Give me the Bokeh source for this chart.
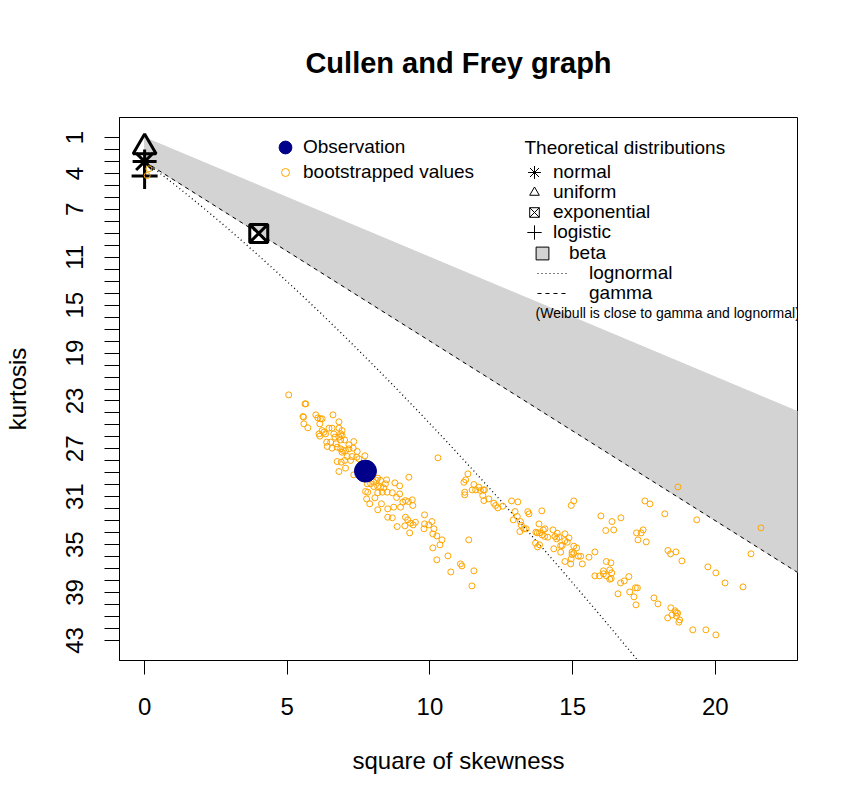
from bokeh.plotting import figure
from bokeh.models import Range1d, FixedTicker, Legend, LegendItem, Label
from bokeh.core.properties import value
from bokeh.embed import file_html
from bokeh.resources import INLINE

FONT = "Liberation Sans"
NAN = float("nan")

# ---------------- data ----------------
x_ticks = [0, 5, 10, 15, 20]
y_ticks = list(range(1, 44))
y_labels_shown = [1, 4, 7, 11, 15, 19, 23, 27, 31, 35, 39, 43]

obs_s2 = [7.74]
obs_kurt = [28.86]

boot_s2 = [
    0.15, 0.09,
    5.05, 5.62, 5.65, 5.55, 5.57, 5.58, 5.72, 6.00, 6.07, 6.16, 6.22, 6.60, 6.81, 6.14, 6.22, 6.11, 6.14, 6.28,
    6.34, 6.46, 6.57, 6.81, 6.92, 6.87, 6.63, 6.67, 6.81, 6.92, 6.38, 6.52, 6.71, 6.87, 7.01, 7.16, 7.33, 6.40,
    6.57, 6.75, 6.87, 6.96, 7.04, 7.16, 7.31, 7.45, 6.92, 7.10, 7.27, 7.43, 7.51, 6.75, 6.89, 7.01, 7.22, 7.72,
    6.81, 7.04, 7.33, 7.80, 7.92, 8.03, 8.13, 8.17, 8.27, 8.48, 8.03, 8.17, 8.27, 8.38, 8.44, 8.77, 8.94, 9.26,
    7.74, 7.82, 7.78, 7.89, 8.07, 8.17, 8.33, 8.50, 8.68, 8.83, 8.94, 9.05, 9.14, 9.24, 9.38, 9.40, 8.30, 8.17,
    8.52, 8.73, 8.97, 8.52, 8.68, 8.85, 9.12, 9.14, 9.22, 9.32, 9.41, 9.49, 9.29,
    10.28, 11.33, 11.19, 11.25, 11.22, 11.22, 11.54, 11.48, 11.60, 11.71, 11.77, 11.87, 11.91, 11.89, 11.85,
    12.06, 12.24, 12.30, 12.38, 12.55, 12.86, 13.08, 12.98, 13.06, 12.92, 13.17, 13.20, 13.29, 13.37, 13.15,
    13.43, 13.47, 13.82, 13.92, 13.71, 13.76, 13.84, 13.97, 14.03, 13.93, 14.02, 14.13, 14.31, 14.38, 14.46,
    14.44, 14.52, 14.58, 14.63, 14.73, 14.73, 14.81, 14.87, 15.04, 15.14, 14.34, 14.58, 14.98, 14.98, 15.04,
    15.20, 15.28, 14.95, 14.73, 14.93, 15.34, 15.57, 15.78, 15.04, 14.95, 15.99, 16.16, 16.38, 16.44, 16.69,
    17.53, 17.71, 18.23, 17.24, 17.40, 17.47, 17.29, 17.58, 18.34, 18.43, 18.62, 18.83, 19.35, 18.69, 21.60,
    21.25, 19.74, 20.02, 20.34, 20.97, 16.18, 16.34, 15.78, 15.94, 16.08, 16.08, 16.18, 16.30, 16.37, 16.30,
    16.35, 16.97, 16.81, 16.68, 16.59, 17.00, 17.15, 17.22, 17.20, 17.27, 17.85, 17.99, 18.33, 18.44, 18.48,
    18.59, 18.63, 18.68, 18.64, 18.75, 18.72, 19.21, 19.67, 20.02,
    9.81, 9.81, 9.96, 10.07, 9.79, 10.14, 10.10, 10.24, 10.42, 10.35, 10.10, 10.24, 10.63, 11.07, 11.12, 10.73,
    11.54, 11.47, 11.36, 13.70, 13.77, 13.84,
]
boot_kurt = [
    3.61, 4.17,
    22.49, 23.24, 23.24, 24.30, 24.35, 24.91, 25.24, 24.16, 24.41, 24.49, 24.49, 24.16, 24.74, 24.91, 25.47, 25.75, 25.94, 25.61,
    25.75, 25.27, 25.27, 25.27, 25.47, 25.75, 25.75, 26.02, 26.02, 25.89, 26.44, 26.44, 26.58, 26.25, 26.25, 26.66, 26.39, 26.80,
    26.94, 26.86, 27.00, 27.14, 27.14, 27.00, 26.94, 27.22, 27.28, 27.64, 27.64, 27.70, 27.83, 28.06, 28.11, 27.97, 27.97, 27.58,
    28.89, 28.61, 29.17, 29.92, 29.92, 29.78, 29.64, 29.45, 29.64, 29.59, 30.15, 30.15, 30.20, 30.26, 29.92, 29.84, 30.09, 29.37,
    30.56, 30.62, 31.18, 31.59, 31.09, 30.67, 30.62, 30.62, 30.67, 31.06, 30.76, 31.45, 31.32, 31.40, 31.26, 31.73, 31.59, 32.09,
    32.01, 31.87, 31.87, 32.71, 32.76, 33.49, 33.43, 32.71, 32.93, 33.21, 33.35, 33.13, 34.02,
    27.75, 29.09, 29.79, 29.59, 30.62, 30.84, 29.98, 30.43, 30.43, 30.20, 30.48, 30.43, 30.43, 31.32, 30.90,
    31.18, 31.54, 31.73, 31.93, 31.79, 31.35, 31.43, 32.24, 32.65, 32.93, 33.07, 33.38, 33.68, 33.68, 33.91,
    32.24, 32.43, 33.27, 32.18, 33.96, 34.02, 34.02, 33.77, 33.68, 34.19, 34.32, 34.38, 33.77, 34.32, 34.05,
    34.52, 34.38, 35.08, 35.08, 34.10, 34.66, 34.80, 34.44, 35.13, 35.27, 35.35, 35.63, 35.63, 35.83, 35.72,
    35.97, 35.97, 36.19, 36.41, 36.61, 36.61, 36.05, 35.61, 31.35, 31.73, 32.60, 33.82, 33.07, 33.77, 32.76,
    31.35, 31.60, 32.43, 34.02, 34.02, 33.77, 34.60, 34.77, 35.49, 35.77, 35.61, 36.36, 32.93, 30.18, 33.60,
    35.77, 36.86, 37.36, 38.20, 38.53, 36.41, 36.52, 37.61, 37.61, 37.44, 37.19, 37.61, 37.11, 37.36, 37.89,
    37.83, 37.67, 38.03, 38.20, 39.11, 38.95, 39.36, 40.03, 38.61, 38.61, 39.45, 39.95, 41.12, 40.28, 40.87,
    40.53, 40.67, 40.73, 40.98, 41.29, 41.48, 42.12, 42.12, 42.54,
    32.51, 33.27, 33.35, 33.07, 33.68, 33.68, 34.10, 34.27, 34.60, 35.02, 35.27, 36.27, 35.94, 36.61, 36.78, 37.28,
    37.19, 38.45, 34.60, 34.88, 35.19, 35.02,
]

# theoretical distributions (square of skewness, kurtosis)
normal_s2, normal_kurt = [0], [3]
uniform_s2, uniform_kurt = [0], [1.8]
expo_s2, expo_kurt = [4], [9]
logis_s2, logis_kurt = [0], [4.2]

beta_s2 = [0, 30, 30, 0]
beta_kurt = [1, 31, 48, 3]

gamma_s2 = [0, 30]
gamma_kurt = [3, 48]

lognormal_s2 = [0, 0.4651, 0.961, 1.4884, 2.048, 2.6406, 3.267, 3.9279, 4.624, 5.3561, 6.125,
                6.9314, 7.776, 8.6596, 9.583, 10.5469, 11.552, 12.5991, 13.689, 14.8224, 16.0,
                17.2226, 18.491]
lognormal_kurt = [3, 3.8383, 4.7561, 5.7583, 6.8496, 8.0352, 9.3201, 10.7098, 12.2096, 13.8253,
                  15.5625, 17.4273, 19.4256, 21.5638, 23.8481, 26.2852, 28.8816, 31.6443, 34.5801,
                  37.6963, 41.0, 44.4985, 48.2]

note_text = "(Weibull is close to gamma and lognormal)"
note_s2, note_kurt = [13.70], [15.61]

ORANGE = "#FFA500"
DARKBLUE = "#00008B"
LIGHTGREY = "#D3D3D3"

# ---------------- figure ----------------
FL, FT, FW, FH = 119, 117, 678, 543   # frame offsets inside the figure
p = figure(frame_width=FW, frame_height=FH,
           x_range=Range1d(-0.88, 22.88), y_range=Range1d(44.68, -0.68),
           output_backend="svg", toolbar_location=None,
           min_border_left=FL, min_border_right=53, min_border_top=FT, min_border_bottom=139,
           title="Cullen and Frey graph")
p.background_fill_color = "white"
p.border_fill_color = "white"
p.outline_line_color = "black"
p.outline_line_width = 1
p.grid.visible = False

p.title.align = "center"
p.title.text_font = FONT
p.title.text_font_size = "29px"
p.title.text_font_style = "bold"
p.title.text_color = "black"
p.title.standoff = 77

p.xaxis.ticker = FixedTicker(ticks=x_ticks, minor_ticks=[])
p.yaxis.ticker = FixedTicker(ticks=y_ticks, minor_ticks=[])
p.yaxis.major_label_overrides = {t: (str(t) if t in y_labels_shown else "") for t in y_ticks}
p.yaxis.major_label_orientation = "vertical"
p.xaxis.axis_label = "square of skewness"
p.yaxis.axis_label = "kurtosis"
for ax in (p.xaxis, p.yaxis):
    ax.axis_label_text_font = FONT
    ax.axis_label_text_font_size = "24px"
    ax.axis_label_text_font_style = "normal"
    ax.major_label_text_font = FONT
    ax.major_label_text_font_size = "24px"
    ax.major_tick_in = 0
    ax.minor_tick_out = 0
    ax.minor_tick_in = 0
    ax.axis_line_color = "black"
    ax.major_tick_line_color = "black"
    ax.major_label_text_color = "black"
    ax.axis_label_text_color = "black"
p.xaxis.major_tick_out = 14
p.xaxis.major_label_standoff = 23
p.xaxis.axis_label_standoff = 29
p.yaxis.major_tick_out = 15
p.yaxis.major_label_standoff = 21
p.yaxis.axis_label_standoff = 33

# beta region and theoretical lines
p.patch(beta_s2, beta_kurt, fill_color=LIGHTGREY, line_color=LIGHTGREY)
p.line(lognormal_s2, lognormal_kurt, line_color="black", line_width=1.3, line_dash="1 3")
p.line(gamma_s2, gamma_kurt, line_color="black", line_width=1, line_dash="4 4")

# theoretical points
p.scatter(normal_s2, normal_kurt, marker="asterisk", size=24, line_color="black", line_width=3)
p.scatter(uniform_s2, uniform_kurt, marker="triangle", size=23, fill_color=None, line_color="black", line_width=3)
p.scatter(expo_s2, expo_kurt, marker="square_x", size=18, fill_color=None, line_color="black", line_width=3)
p.scatter(logis_s2, logis_kurt, marker="cross", size=26, line_color="black", line_width=3)

# bootstrapped values and observation
p.scatter(boot_s2, boot_kurt, marker="circle", size=6, fill_color=None, line_color=ORANGE, line_width=1)
p.scatter(obs_s2, obs_kurt, marker="circle", size=22, fill_color=DARKBLUE, line_color=DARKBLUE)

# Weibull note (clipped by the frame like the original)
p.text(note_s2, note_kurt, text=[note_text], text_font=value(FONT), text_font_size="14px",
       text_baseline="middle", text_align="left", text_color="black")

# ---------------- legends (proxy renderers with no visible data) ----------------
e = [NAN]
leg_obs = p.scatter(e, e, marker="circle", fill_color=DARKBLUE, line_color=DARKBLUE)
leg_boot = p.scatter(e, e, marker="circle", fill_color=None, line_color=ORANGE, line_width=1)
leg_norm = p.scatter(e, e, marker="asterisk", line_color="black", line_width=1)
leg_unif = p.scatter(e, e, marker="triangle", fill_color=None, line_color="black", line_width=1)
leg_expo = p.scatter(e, e, marker="square_x", fill_color=None, line_color="black", line_width=1)
leg_logis = p.scatter(e, e, marker="cross", line_color="black", line_width=1)
leg_beta = p.scatter(e, e, marker="square", fill_color=LIGHTGREY, line_color="black", line_width=1)
leg_lnorm = p.line(e, e, line_color="black", line_width=1, line_dash="1 3")
leg_gamma = p.line(e, e, line_color="black", line_width=1, line_dash="4 4")

PAGE_L, PAGE_B = FL, FT + FH   # page position of frame left / bottom


def add_leg(label, rend, left, cy, gw, gh, standoff):
    leg = Legend(items=[LegendItem(label=label, renderers=[rend])],
                 location=(int(left - PAGE_L), int(round(PAGE_B - (cy + gh / 2)))),
                 glyph_width=gw, glyph_height=gh, label_height=gh,
                 label_standoff=standoff, padding=0, margin=0, spacing=0,
                 border_line_alpha=0, background_fill_alpha=0,
                 label_text_font=FONT, label_text_font_size="19px",
                 label_text_color="black")
    p.add_layout(leg)


add_leg("Observation", leg_obs, 269, 147, 32, 32, 2)
add_leg("bootstrapped values", leg_boot, 275, 172, 20, 24, 8)
add_leg("normal", leg_norm, 518, 172, 32, 32, 3)
add_leg("uniform", leg_unif, 522, 192, 24, 24, 7)
add_leg("exponential", leg_expo, 522, 212, 24, 24, 7)
add_leg("logistic", leg_logis, 516, 232, 36, 36, 1)
add_leg("beta", leg_beta, 526, 253, 32, 32, 11)
add_leg("lognormal", leg_lnorm, 537, 273, 30, 24, 22)
add_leg("gamma", leg_gamma, 537, 293, 30, 24, 22)

p.add_layout(Label(x=524 - PAGE_L, y=PAGE_B - 147, x_units="screen", y_units="screen",
                   text="Theoretical distributions", text_baseline="middle",
                   text_font=FONT, text_font_size="19px", text_color="black"))

open("out.html", "w").write(file_html(p, INLINE))
